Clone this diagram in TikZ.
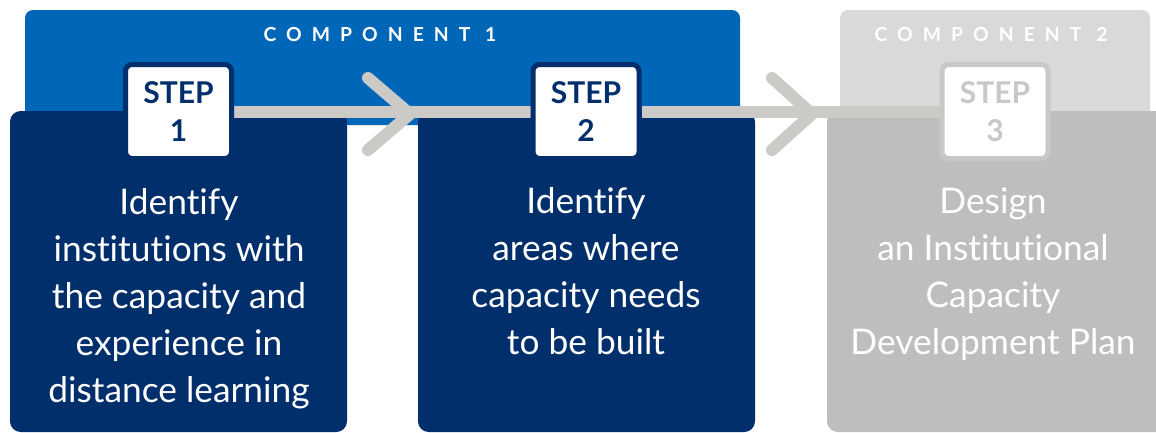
\documentclass[tikz,border=0pt]{standalone}
\usepackage{fontspec}
\setmainfont{Lato}[Ligatures={NoCommon}]
\newfontfamily\compfont[LetterSpace=52]{Lato}
\definecolor{navy}{RGB}{0,47,108}
\definecolor{compblue}{RGB}{0,102,184}
\definecolor{compgray}{RGB}{217,217,217}
\definecolor{stepgray}{RGB}{190,190,190}
\definecolor{labgray}{RGB}{200,200,200}
\definecolor{linegray}{RGB}{204,202,198}
\pgfdeclarelayer{back}
\pgfdeclarelayer{mid}
\pgfsetlayers{back,mid,main}
\tikzset{
  compbox/.style={rounded corners=6pt},
  stepbox/.style={rounded corners=8pt},
  steplab/.style={draw=#1, text=#1, fill=white, line width=3.75pt, rounded corners=5pt,
    minimum width=79.5pt, minimum height=70.5pt, inner sep=0pt, align=center,
    font=\fontsize{22.5}{28.5}\selectfont\bfseries},
  steptext/.style={text=white, align=center, anchor=base,
    font=\fontsize{26.5}{35.25}\selectfont},
  comptext/.style={text=white, font=\fontsize{14.5}{16}\selectfont\compfont\bfseries},
  conn/.style={draw=linegray, line width=9pt},
  chev/.style={draw=linegray, line width=9pt, line cap=round, line join=round}
}
\begin{document}
\begin{tikzpicture}[x=0.75pt,y=-0.75pt]
\clip (0,0) rectangle (1156,432);
\begin{pgfonlayer}{back}
% component backgrounds
\fill[compblue, compbox] (25,10) rectangle (740,125);
\fill[compgray, compbox] (840,10) rectangle (1150,125);
% step boxes
\fill[navy, stepbox] (10,111) rectangle (347,432);
\fill[navy, stepbox] (418,111) rectangle (755,432);
\fill[stepgray, stepbox] (827,111) rectangle (1170,432);
\end{pgfonlayer}
\node[comptext] (c1) at (380,35) {COMPONENT 1};
\node[comptext] (c2) at (991,35) {COMPONENT 2};
% step labels
\node[steplab=navy] (s1) at (178.5,111.5) {STEP\\1};
\node[steplab=navy] (s2) at (586,111.5) {STEP\\2};
\node[steplab=labgray] (s3) at (995,111.5) {STEP\\3};
% connectors
\begin{pgfonlayer}{mid}
\draw[conn] (s1.east) -- (s2.west);
\draw[conn] (s2.east) -- (s3.west);
\coordinate (a1t) at (368,78);
\coordinate (a1m) at (410,114);
\coordinate (a1b) at (368,150);
\coordinate (a2t) at (772,78);
\coordinate (a2m) at (812,114);
\coordinate (a2b) at (772,150);
\draw[chev] (a1t) -- (a1m) -- (a1b);
\draw[chev] (a2t) -- (a2m) -- (a2b);
\end{pgfonlayer}
% texts
\node[steptext] (t1) at (179,402) {Identify\\institutions with\\the capacity and\\experience in\\distance learning};
\node[steptext] (t2) at (586,354) {Identify\\areas where\\capacity needs\\to be built};
\node[steptext] (t3) at (993,354) {Design\\an Institutional\\Capacity\\Development Plan};
\end{tikzpicture}
\end{document}
